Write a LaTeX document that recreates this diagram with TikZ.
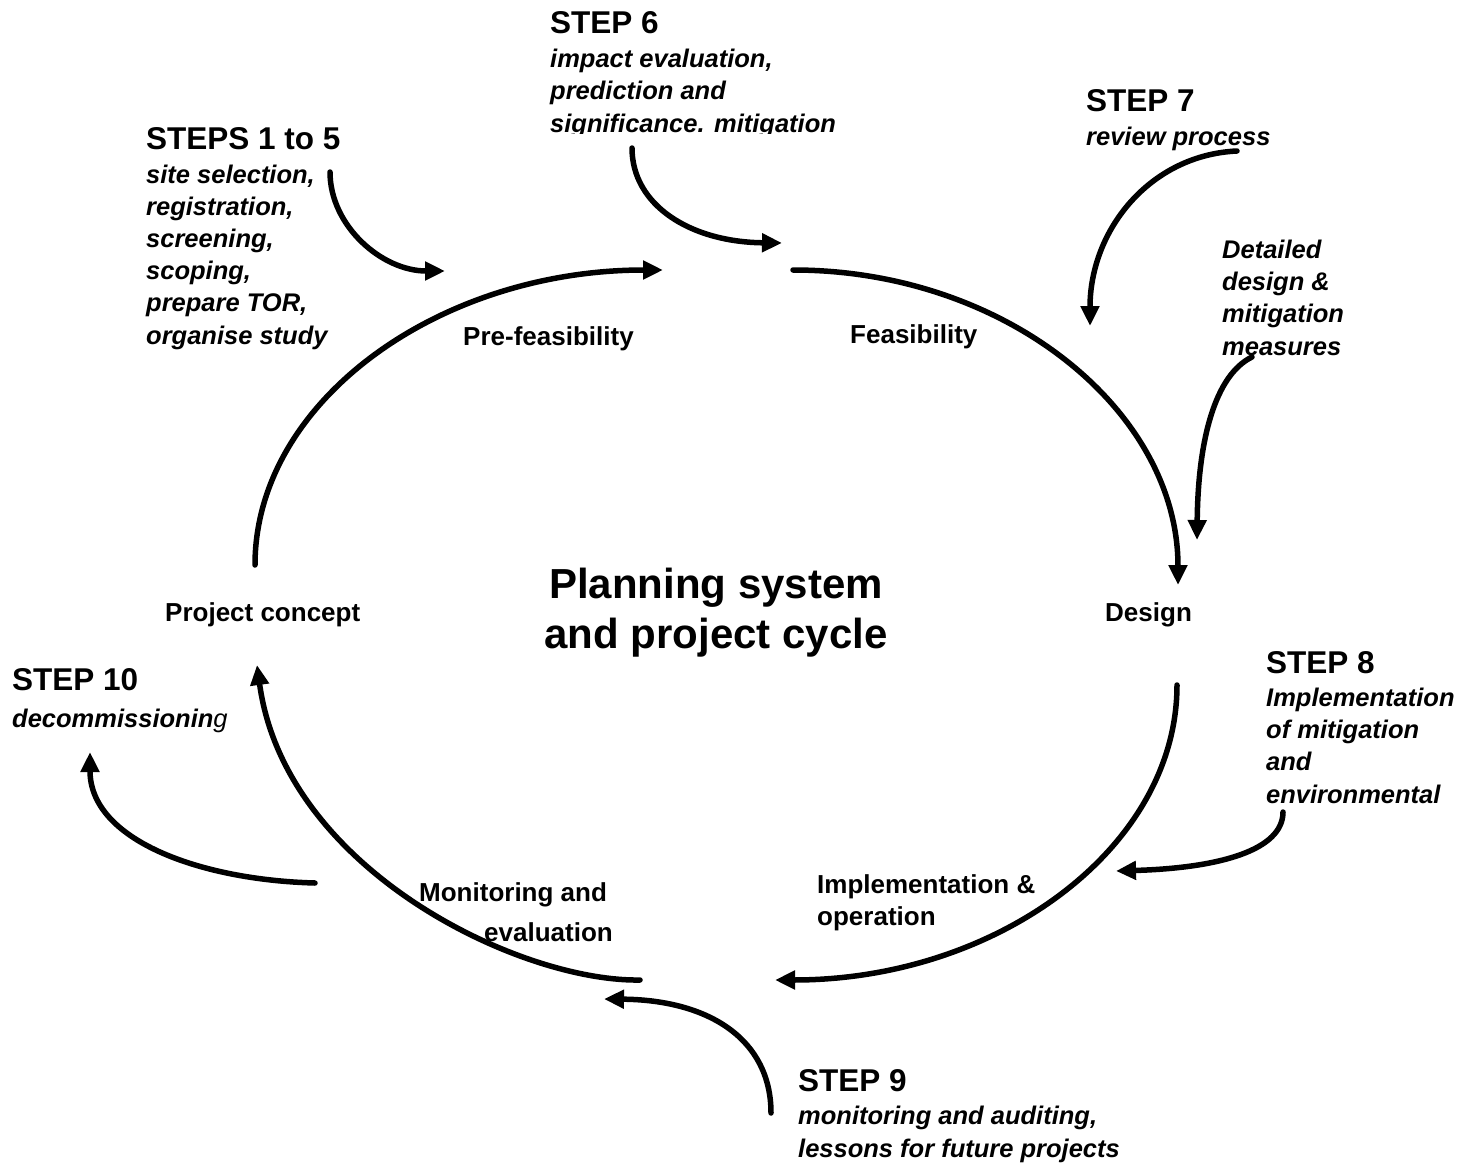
\documentclass[tikz,border=0pt]{standalone}
\usepackage{fontspec}
\setmainfont{Liberation Sans}
\usetikzlibrary{arrows.meta}
\begin{document}
\begin{tikzpicture}[x=1pt,y=-1pt,
  flow/.style={line width=5.5pt, line cap=round,
    -{Triangle[length=20pt,width=18pt]}},
  phase/.style={font=\fontsize{26}{32}\selectfont\bfseries,
    inner sep=0pt, anchor=base west},
  note/.style={font=\fontsize{25.5}{32.2}\selectfont\bfseries\itshape,
    align=left, inner sep=0pt, anchor=base west},
  title/.style={font=\fontsize{42}{50}\selectfont\bfseries,
    align=center, inner sep=0pt, anchor=base},
]
\newcommand{\stephead}[1]{{\fontsize{31.5}{34}\selectfont\upshape #1}}
\useasboundingbox (0,0) rectangle (1476,1164);

% centre title (anchored at the baseline of its last line)
\node[title] (cycle) at (716,648) {Planning system\\and project cycle};

% phase labels around the cycle
\node[phase] (concept) at (165,621) {Project concept};
\node[phase] (prefeas) at (463,345) {Pre-feasibility};
\node[phase] (feas) at (850,343) {Feasibility};
\node[phase] (design) at (1105,621) {Design};
\node[phase, align=left] (implop) at (817,925) {Implementation \&\\operation};
\node[phase, align=left] (monev) at (419,941) {Monitoring and\\[8pt]\hspace*{65pt}evaluation};

% step descriptions (anchored at the baseline of their last line)
\node[note] (s15) at (146,344) {\stephead{STEPS 1 to 5}\\[1pt]site selection,\\registration,\\screening,\\scoping,\\prepare TOR,\\organise study};
\begin{scope}
  \clip (540,0) rectangle (900,133);
  \node[note] (s6) at (550,132) {\stephead{STEP 6}\\[2pt]impact evaluation,\\prediction and\\significance. mitigation};
\end{scope}
\node[note] (s7) at (1086,145) {\stephead{STEP 7}\\[1pt]review process};
\node[note] (detail) at (1222,355) {Detailed\\design \&\\mitigation\\measures};
\node[note] (s8) at (1266,803) {\stephead{STEP 8}\\[1pt]Implementation\\of mitigation\\and\\environmental};
\node[note] (s9) at (798,1157) {\stephead{STEP 9}\\[1pt]monitoring and auditing,\\lessons for future projects};
\node[note] (s10) at (12,727) {\stephead{STEP 10}\\[4pt]decommissionin{\mdseries g}};

% end points of the cycle arcs
\coordinate (a1s) at (255,565);  \coordinate (a1e) at (663,270);
\coordinate (a2s) at (793,270);  \coordinate (a2e) at (1178,585);
\coordinate (a3s) at (1177,685); \coordinate (a3e) at (775,980);
\coordinate (a4s) at (640,980);  \coordinate (a4e) at (257,665);

% the project cycle
\draw[flow] (a1s) .. controls (255,402) and (438,270) .. (a1e);
\draw[flow] (a2s) .. controls (1006,270) and (1178,411) .. (a2e);
\draw[flow] (a3s) .. controls (1177,848) and (997,980) .. (a3e);
\draw[flow] (a4s) .. controls (520,982) and (285,870) .. (a4e);

% end points of the step arrows
\coordinate (b1s) at (330,172);  \coordinate (b1e) at (445,271);
\coordinate (b6s) at (632,148);  \coordinate (b6e) at (782,243);
\coordinate (b7s) at (1237,151); \coordinate (b7e) at (1090,326);
\coordinate (bds) at (1252,357); \coordinate (bde) at (1197,540);
\coordinate (b8s) at (1283,812); \coordinate (b8e) at (1116,871);
\coordinate (b9s) at (771,1113); \coordinate (b9e) at (604,999);
\coordinate (b10s) at (315,883); \coordinate (b10e) at (90,752);

% step arrows feeding into the cycle
\draw[flow] (b1s) .. controls (330,226) and (382,271) .. (b1e);
\draw[flow] (b6s) .. controls (632,205) and (690,242) .. (b6e);
\draw[flow] (b7s) .. controls (1150,155) and (1090,230) .. (b7e);
\draw[flow] (bds) .. controls (1215,375) and (1198,440) .. (bde);
\draw[flow] (b8s) .. controls (1283,850) and (1220,868) .. (b8e);
\draw[flow] (b9s) .. controls (771,1040) and (710,1000) .. (b9e);
\draw[flow] (b10s) .. controls (200,880) and (90,840) .. (b10e);
\end{tikzpicture}
\end{document}
